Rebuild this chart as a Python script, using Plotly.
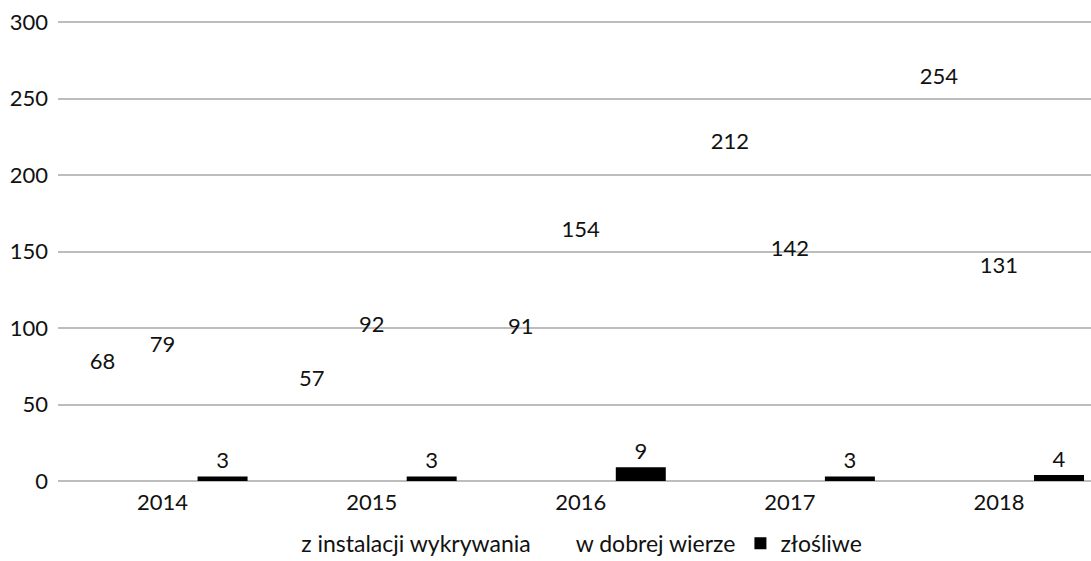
import plotly.graph_objects as go

years = ["2014", "2015", "2016", "2017", "2018"]
z_instalacji = [68, 57, 91, 212, 254]
w_dobrej_wierze = [79, 92, 154, 142, 131]
zlosliwe = [3, 3, 9, 3, 4]
series_names = ["z instalacji wykrywania", "w dobrej wierze", "złośliwe"]
y_ticks = [0, 50, 100, 150, 200, 250, 300]

FONT = "Lato, 'Open Sans', sans-serif"
TXT = "#111111"
FS = 22

fig = go.Figure()
for name, vals, col in [
    (series_names[0], z_instalacji, "rgba(255,255,255,0)"),
    (series_names[1], w_dobrej_wierze, "rgba(255,255,255,0)"),
    (series_names[2], zlosliwe, "#000000"),
]:
    fig.add_trace(go.Bar(
        x=years, y=vals, name=name,
        marker=dict(color=col, line=dict(width=0)),
        text=[str(v) for v in vals],
        textposition="outside",
        textfont=dict(family=FONT, size=FS, color=TXT),
        cliponaxis=False,
    ))

fig.update_layout(
    width=1091, height=561,
    margin=dict(l=58, r=0, t=19, b=80, autoexpand=False),
    paper_bgcolor="white", plot_bgcolor="white",
    barmode="group", bargap=0.139, bargroupgap=0.167,
    font=dict(family=FONT, size=FS, color=TXT),
    showlegend=True,
    legend=dict(orientation="h", x=0.49, xanchor="center", y=-0.135, yanchor="middle",
                font=dict(family=FONT, size=23, color=TXT), traceorder="normal",
                itemwidth=30),
)
fig.update_xaxes(
    range=[-0.5, 4.44], showgrid=False, showline=False, zeroline=False,
    ticks="", ticklabelstandoff=6, tickfont=dict(size=FS, color=TXT),
)
fig.update_yaxes(
    range=[0, 302], tickvals=y_ticks, showgrid=True, gridcolor="#bdbdbd", gridwidth=1.5,
    zeroline=True, zerolinecolor="#bdbdbd", zerolinewidth=1.5, showline=False,
    ticks="", ticklabelstandoff=9, tickfont=dict(size=FS, color=TXT),
)

fig.write_html(
    "out.html",
    config={"displayModeBar": False},
    post_script="document.body.style.margin='0';document.body.style.overflow='hidden';",
)
